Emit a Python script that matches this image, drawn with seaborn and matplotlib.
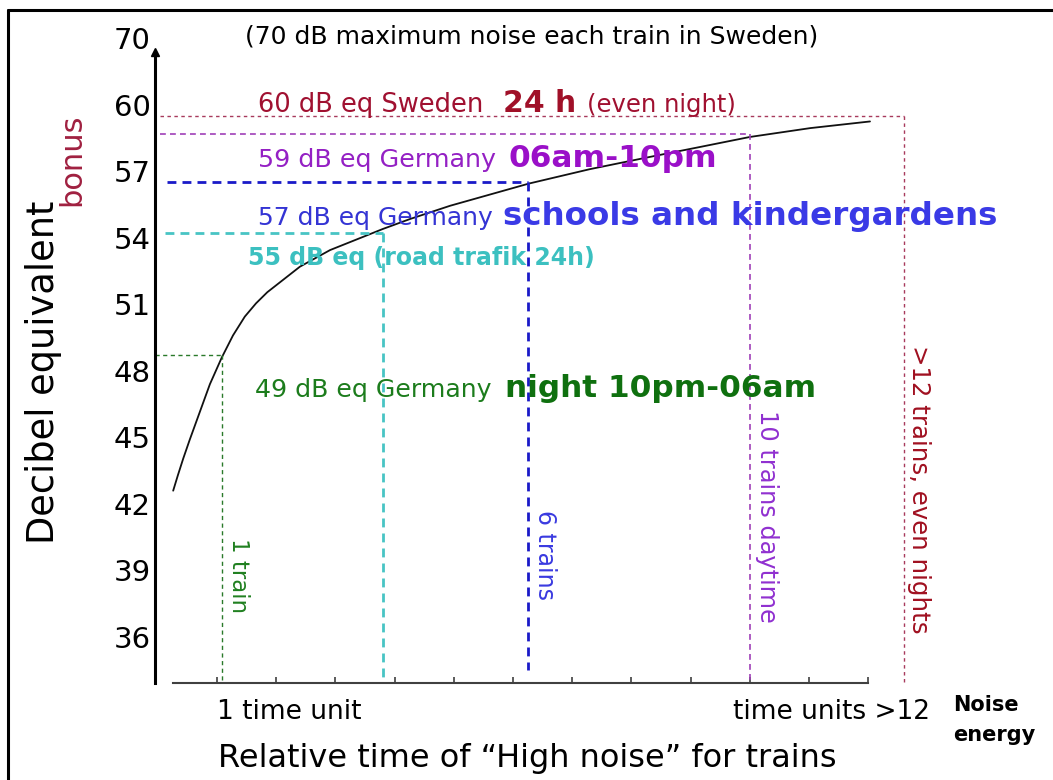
import matplotlib
matplotlib.use("Agg")
import matplotlib.pyplot as plt
import seaborn as sns
from matplotlib.lines import Line2D

# Noise curve: relative time of "high noise" vs. decibel equivalent
curve_time = [0.26, 0.34, 0.43, 0.54, 0.71, 0.88, 1.08, 1.27, 1.47, 1.66, 1.85, 2.40,
              2.91, 3.80, 4.26, 4.94, 6.27, 7.30, 8.31, 9.16, 10.00, 11.02, 12.03]
curve_db = [42.6, 43.3, 44.05, 44.9, 46.15, 47.4, 48.6, 49.6, 50.45, 51.05, 51.55, 52.7,
            53.45, 54.4, 54.85, 55.45, 56.45, 57.1, 57.65, 58.1, 58.55, 58.95, 59.25]

# Limit levels (dB eq) and where they hit the curve (time units)
limit_names = ["sweden_24h", "germany_day", "germany_schools", "road_24h", "germany_night"]
limit_db = [59.5, 58.7, 56.5, 54.2, 48.7]
limit_time = [12.6, 10.0, 6.25, 3.8, 1.08]

ytick_values = [36, 39, 42, 45, 48, 51, 54, 57, 60, 63.02]
ytick_labels = ["36", "39", "42", "45", "48", "51", "54", "57", "60", "70"]
xtick_values = [1, 2, 3, 4, 5, 6, 7, 8, 9, 10, 11, 12]

# styles per limit line
line_styles = {
    "sweden_24h": dict(color="#a83a5c", lw=1.0, dashes=(2.5, 2.5)),
    "germany_day": dict(color="#a040b8", lw=1.2, dashes=(3.5, 2.5)),
    "germany_schools": dict(color="#1a1ac8", lw=2.0, dashes=(3.2, 2.2)),
    "road_24h": dict(color="#48c4c4", lw=2.0, dashes=(3.2, 2.2)),
    "germany_night": dict(color="#2a7a2a", lw=1.0, dashes=(3.0, 2.5)),
}
h_start = {"sweden_24h": 0.04, "germany_day": 0.04, "germany_schools": 0.15,
           "road_24h": 0.12, "germany_night": -0.05}
v_floor = {"sweden_24h": 33.95, "germany_day": 34.05, "germany_schools": 34.5,
           "road_24h": 34.15, "germany_night": 33.95}

sns.set_theme(style="white")
plt.rcParams["font.family"] = ["DejaVu Sans"]

W, H = 1053, 780
fig = plt.figure(figsize=(W / 100, H / 100), dpi=100)
# axes box in pixels: x 155..1045, y 25..700 (from top)
ax = fig.add_axes([155 / W, (H - 700) / H, 890 / W, 675 / H])
ax.set_xlim(-0.047, 14.986)
ax.set_ylim(33.16, 63.60)

sns.lineplot(x=curve_time, y=curve_db, ax=ax, color="#111111", lw=1.3, sort=False)

for name, db, t in zip(limit_names, limit_db, limit_time):
    st = line_styles[name]
    ax.plot([h_start[name], t], [db, db], color=st["color"], lw=st["lw"],
            dashes=st["dashes"], clip_on=False)
    ax.plot([t, t], [db, v_floor[name]], color=st["color"], lw=st["lw"],
            dashes=st["dashes"], clip_on=False)

# axes styling
for s in ["top", "right"]:
    ax.spines[s].set_visible(False)
ax.spines["left"].set_linewidth(2.2)
ax.spines["left"].set_color("black")
ax.spines["left"].set_bounds(33.93, 62.25)
ax.spines["bottom"].set_position(("data", 33.93))
ax.spines["bottom"].set_bounds(0.26, 12.0)
ax.spines["bottom"].set_linewidth(1.5)
ax.spines["bottom"].set_color("#404040")
ax.plot([0], [62.4], marker="^", ms=6, color="black",
        transform=ax.get_yaxis_transform(), clip_on=False)

ax.set_yticks(ytick_values)
ax.set_yticklabels(ytick_labels)
ax.tick_params(axis="y", length=0, pad=3, labelsize=21, labelcolor="black")
ax.set_xticks(xtick_values)
ax.set_xticklabels([])
ax.tick_params(axis="x", direction="in", length=4.5, width=1.2, color="#404040",
               bottom=True)

ax.set_ylabel("Decibel equivalent", fontsize=26.5, color="black")
ax.yaxis.set_label_coords(-0.105, 0.485)
ax.text(-0.093, 0.80, "bonus", transform=ax.transAxes, rotation=90,
        ha="center", va="center", fontsize=22, color="#a02040")

# annotations
ax.text(1.47, 63.06, "(70 dB maximum noise each train in Sweden)", fontsize=18,
        va="center", ha="left", color="black")

red, red_b = "#a01030", "#a01028"
ax.text(1.69, 59.68, "60 dB eq Sweden", fontsize=18.5, color=red, va="baseline")
ax.text(5.83, 59.68, "24 h", fontsize=21.5, fontweight="bold", color=red_b, va="baseline")
ax.text(7.25, 59.68, "(even night)", fontsize=17.5, color=red, va="baseline")

purple = "#9420c4"
ax.text(1.69, 57.20, "59 dB eq Germany", fontsize=18.3, color=purple, va="baseline")
ax.text(5.92, 57.20, "06am-10pm", fontsize=22.5, fontweight="bold", color="#9a10c8",
        va="baseline")

blue = "#3434d4"
ax.text(1.69, 54.58, "57 dB eq Germany", fontsize=18, color=blue, va="baseline")
ax.text(5.83, 54.58, "schools and kindergardens", fontsize=23.4, fontweight="bold",
        color="#3a3ae6", va="baseline")

ax.text(1.52, 52.78, "55 dB eq (road trafik 24h)", fontsize=17, fontweight="bold",
        color="#3cc0c0", va="baseline")

green = "#1c7c1c"
ax.text(1.64, 46.83, "49 dB eq Germany", fontsize=18.2, color=green, va="baseline")
ax.text(5.86, 46.83, "night 10pm-06am", fontsize=22.4, fontweight="bold",
        color="#0f700f", va="baseline")

# vertical labels along the time markers
ax.text(1.37, 40.47, "1 train", rotation=-90, fontsize=16.5, color="#208020",
        ha="center", va="top")
ax.text(6.54, 41.73, "6 trains", rotation=-90, fontsize=17, color="#3a3ae0",
        ha="center", va="top")
ax.text(10.29, 46.24, "10 trains daytime", rotation=-90, fontsize=17.3,
        color="#9030d0", ha="center", va="top")
ax.text(12.86, 49.17, ">12 trains, even nights", rotation=-90, fontsize=17.6,
        color="#a01020", ha="center", va="top")

# x-axis texts
ax.text(1.0, 32.62, "1 time unit", fontsize=19, ha="left", va="center", color="black")
ax.text(13.04, 32.62, "time units >12", fontsize=19, ha="right", va="center",
        color="black")
ax.text(1.02, 30.54, "Relative time of \u201cHigh noise\u201d for trains", fontsize=23,
        ha="left", va="center", color="black")
ax.text(13.43, 32.93, "Noise", fontsize=15, fontweight="bold", ha="left",
        va="center", color="black")
ax.text(13.43, 31.58, "energy", fontsize=15, fontweight="bold", ha="left",
        va="center", color="black")

# slide frame (top and left edges)
fig.add_artist(Line2D([8 / W, 1], [1 - 10 / H, 1 - 10 / H], color="black", lw=2.2,
                      transform=fig.transFigure))
fig.add_artist(Line2D([8 / W, 8 / W], [0, 1 - 10 / H], color="black", lw=2.2,
                      transform=fig.transFigure))

fig.savefig("out.png", dpi=100)
